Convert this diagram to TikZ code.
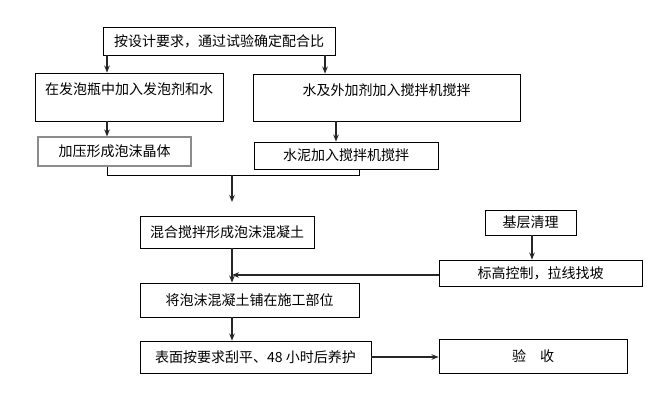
\documentclass[tikz,border=0pt]{standalone}
\usepackage{fontspec}
\setmainfont{Noto Sans CJK SC}
\usetikzlibrary{arrows.meta}
\begin{document}
\begin{tikzpicture}[x=1pt,y=-1pt,
  box/.style={draw=black, line width=0.9pt, inner sep=0pt, font=\fontsize{14}{15}\selectfont},
  graybox/.style={box, draw=black!45, line width=1.1pt},
  link/.style={line width=1.3pt, draw=black!85},
  arr/.style={link, -{Stealth[length=7pt,width=5.5pt]}}]
\useasboundingbox[fill=white] (0,0) rectangle (668,408);
% boxes
\node[box, minimum width=232, minimum height=28] (b1) at (219,41) {按设计要求，通过试验确定配合比};
\node[box, minimum width=188, anchor=base, text height=21pt, text depth=27pt] (b2) at (129,94) {在发泡瓶中加入发泡剂和水};
\node[box, minimum width=267, anchor=base, text height=21pt, text depth=26pt] (b3) at (386.5,95) {水及外加剂加入搅拌机搅拌};
\node[graybox, minimum width=153, minimum height=29] (b5) at (114.5,151.5) {加压形成泡沫晶体};
\node[box, minimum width=184, minimum height=27] (b4) at (346,155.5) {水泥加入搅拌机搅拌};
\node[box, minimum width=174, minimum height=32] (b6) at (227,232) {混合搅拌形成泡沫混凝土};
\node[box, minimum width=91, minimum height=25] (b9) at (530.5,222.5) {基层清理};
\node[box, minimum width=203, minimum height=26] (b8) at (540.5,273) {标高控制，拉线找坡};
\node[box, minimum width=219, minimum height=34] (b7) at (249.5,300) {将泡沫混凝土铺在施工部位};
\node[box, minimum width=231, minimum height=32] (b10) at (255.5,357) {表面按要求刮平、48 小时后养护\hspace{13pt}};
\node[box, minimum width=188, minimum height=34] (b11) at (533,356) {验\hspace{1em}收};
% helper coordinates
\coordinate (xL) at (107,0);
\coordinate (xR) at (325,0);
\coordinate (xC) at (336,0);
\coordinate (xT) at (359,0);
\coordinate (xM) at (232,0);
\coordinate (xB) at (532,0);
\coordinate (j) at (232,175);
\coordinate (aEnd) at (232,202);
% connectors
\draw[arr] (b1.south -| xL) -- (b2.north -| xL);
\draw[arr] (b1.south -| xR) -- (b3.north -| xR);
\draw[arr] (b2.south -| xL) -- (b5.north -| xL);
\draw[arr] (b3.south -| xC) -- (b4.north -| xC);
\draw[line width=0.9pt] (b5.south -| xL) -- (xL |- j) -- (xT |- j) -- (b4.south -| xT);
\draw[arr] (j) -- (aEnd);
\draw[arr] (b6.south -| xM) -- (b7.north -| xM);
\draw[arr] (b9.south -| xB) -- (b8.north -| xB);
\draw[arr] ([yshift=-2pt]b8.west) -- ([yshift=-2pt]xM |- b8.west);
\draw[arr] (b7.south -| xM) -- (b10.north -| xM);
\draw[arr] (b10.east) -- (b11.west |- b10.east);
\end{tikzpicture}
\end{document}
